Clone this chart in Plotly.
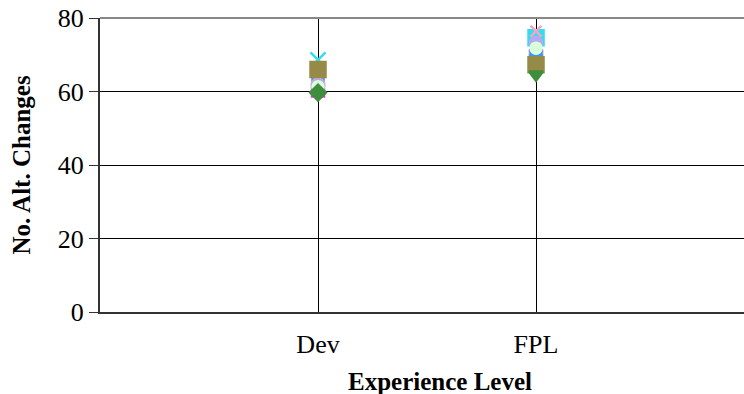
import plotly.graph_objects as go

categories = ["Dev", "FPL"]
cat_pos = [1, 2]

# series: values at Dev and FPL
series_names = ["S1", "S2", "S3", "S5", "S4", "S6", "S7", "S8", "S9"]
series_values = [
    [60.3, 69.5],   # S1 magenta
    [61.0, 71.0],   # S2 yellow
    [62.0, 69.8],   # S3 blue
    [68.6, 74.6],   # S5 cyan
    [63.0, 76.4],   # S4 pink
    [61.6, 73.2],   # S6 lavender
    [61.3, 71.8],   # S7 light green
    [66.0, 67.3],   # S8 olive
    [59.7, 64.6],   # S9 green
]
series_colors = ["#FF33CC", "#FFFF33", "#3399FF", "#33DDEE", "#F4A6C8",
                 "#B8A8F0", "#D8FFD8", "#968B46", "#3E8E3E"]
series_symbols = [
    ["square", "square"],
    ["triangle-up", "triangle-up"],
    ["square", "square"],
    ["x-thin", "square"],
    ["triangle-up", "x-thin"],
    ["circle", "circle"],
    ["circle", "circle"],
    ["square", "square"],
    ["diamond", "triangle-down"],
]
series_sizes = [12, 11, 11, 15, 11, 12, 11, 15, 12]

y_ticks = [0, 20, 40, 60, 80]

fig = go.Figure()
for name, vals, col, sym, sz in zip(series_names, series_values, series_colors,
                                    series_symbols, series_sizes):
    fig.add_trace(go.Scatter(
        x=cat_pos, y=vals, mode="markers", name=name,
        marker=dict(color=col, symbol=sym, size=sz,
                    line=dict(color=col, width=2.5)),
        showlegend=False,
    ))

font_family = "Liberation Serif, Times New Roman, serif"

fig.update_layout(
    width=744, height=394,
    margin=dict(l=100, r=0, t=18, b=82, autoexpand=False),
    paper_bgcolor="white", plot_bgcolor="white",
    font=dict(family=font_family, size=26, color="black"),
    xaxis=dict(
        range=[0, 2.954], tickvals=cat_pos, ticktext=categories,
        showgrid=True, gridcolor="black", gridwidth=1,
        zeroline=False, showline=True, linecolor="#333", linewidth=2,
        ticks="", ticklabelstandoff=8, automargin=False,
        tickfont=dict(size=26),
    ),
    yaxis=dict(
        range=[0, 80], tickvals=y_ticks,
        showgrid=True, gridcolor="black", gridwidth=1,
        zeroline=False, showline=True, linecolor="#333", linewidth=2,
        ticks="outside", ticklen=9, tickcolor="#333", tickwidth=1,
        tickfont=dict(size=26), automargin=False,
        title=dict(text="<b>No. Alt. Changes</b>", standoff=20,
                   font=dict(size=25)),
    ),
    shapes=[dict(type="line", xref="paper", yref="paper", x0=0, x1=1,
                 y0=1, y1=1, line=dict(color="#888", width=2))],
    annotations=[dict(text="<b>Experience Level</b>", xref="paper", yref="paper",
                      x=(440 - 100) / 644, y=(312 - 381) / 294, xanchor="center",
                      yanchor="middle", showarrow=False,
                      font=dict(size=25))],
)

fig.write_html("out.html", config={"displayModeBar": False},
               post_script="document.body.style.margin='0';document.body.style.overflow='hidden';")
